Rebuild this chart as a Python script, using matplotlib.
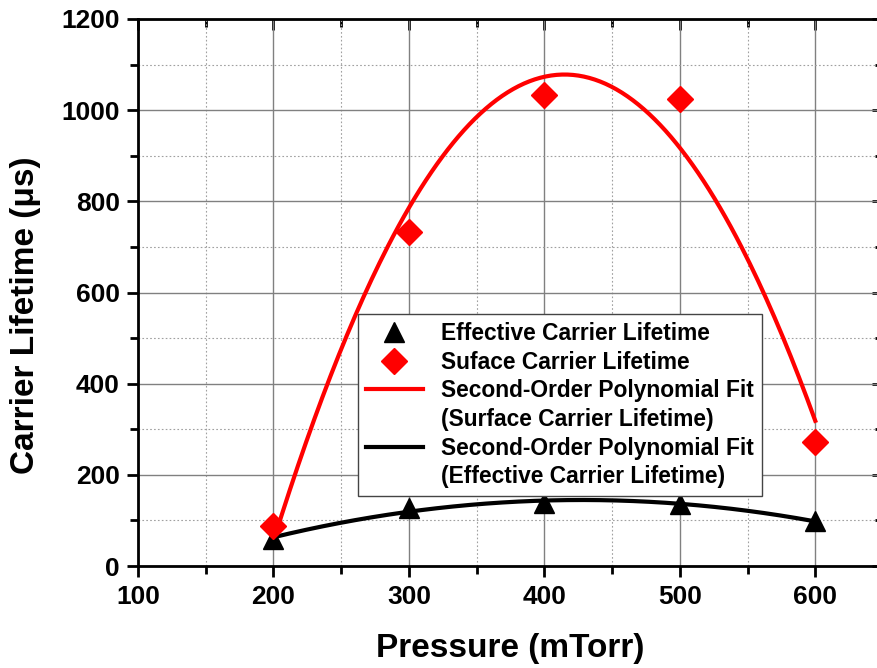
import numpy as np
import matplotlib.pyplot as plt
from matplotlib.lines import Line2D
from matplotlib.ticker import MultipleLocator

plt.rcParams['font.family'] = ['Liberation Sans', 'DejaVu Sans']
plt.rcParams['font.weight'] = 'bold'

# data
pressure = [200, 300, 400, 500, 600]
effective = [60, 127, 138, 136, 99]
surface = [88, 733, 1033, 1024, 272]

# second-order polynomial fits, as in the original
xfit = np.linspace(200, 600, 200)
red_fit = np.polyval(np.polyfit(pressure, surface, 2), xfit)
blk_fit = np.polyval(np.polyfit(pressure, effective, 2), xfit)

fig = plt.figure(figsize=(8.77, 6.68), dpi=100, facecolor='w')
ax = fig.add_axes([138/877, 102/668, 745/877, 547/668])

ax.plot(xfit, red_fit, color='#ff0000', lw=3, zorder=3)
ax.plot(xfit, blk_fit, color='black', lw=3, zorder=3)
ax.plot(pressure, effective, '^', color='black', ms=15, zorder=4)
ax.plot(pressure, surface, 'D', color='#ff0000', ms=13, zorder=5)

ax.set_xlim(100, 650)
ax.set_ylim(0, 1200)
ax.xaxis.set_major_locator(MultipleLocator(100))
ax.xaxis.set_minor_locator(MultipleLocator(50))
ax.yaxis.set_major_locator(MultipleLocator(200))
ax.yaxis.set_minor_locator(MultipleLocator(100))
ax.grid(which='major', color='#808080', lw=1, ls='-')
ax.grid(which='minor', color='#a0a0a0', lw=0.8, ls=(0, (1.5, 2)))
ax.set_axisbelow(True)

for s in ax.spines.values():
    s.set_linewidth(2)

ax.tick_params(which='major', direction='out', length=8, width=2, labelsize=19, pad=6)
ax.tick_params(which='minor', direction='out', length=6, width=2)
ax.tick_params(axis='y', which='major', pad=5)

top = ax.secondary_xaxis('top')
top.xaxis.set_major_locator(MultipleLocator(100))
top.xaxis.set_minor_locator(MultipleLocator(50))
top.tick_params(which='major', direction='in', length=8, width=2, labeltop=False)
top.tick_params(which='minor', direction='in', length=6, width=2)
right = ax.secondary_yaxis('right')
right.yaxis.set_major_locator(MultipleLocator(200))
right.yaxis.set_minor_locator(MultipleLocator(100))
right.tick_params(which='major', direction='in', length=8, width=2, labelright=False)
right.tick_params(which='minor', direction='in', length=6, width=2)

ax.set_xlabel('Pressure (mTorr)', fontsize=24, fontweight='bold')
ax.set_ylabel('Carrier Lifetime (μs)', fontsize=24, fontweight='bold')
ax.xaxis.set_label_coords(0.5, -0.122)
ax.yaxis.set_label_coords(-0.13, 0.459)

blank = Line2D([], [], ls='none')
handles = [
    Line2D([], [], ls='none', marker='^', color='black', ms=15),
    Line2D([], [], ls='none', marker='D', color='#ff0000', ms=13),
    Line2D([], [], color='#ff0000', lw=3),
    blank,
    Line2D([], [], color='black', lw=3),
    blank,
]
labels = [
    'Effective Carrier Lifetime',
    'Suface Carrier Lifetime',
    'Second-Order Polynomial Fit',
    '(Surface Carrier Lifetime)',
    'Second-Order Polynomial Fit',
    '(Effective Carrier Lifetime)',
]
leg = ax.legend(handles, labels, loc='upper left', bbox_to_anchor=(0.2953, 0.4607),
                borderaxespad=0, fancybox=False, framealpha=1, edgecolor='#444444',
                prop={'size': 16.4, 'weight': 'bold'}, handlelength=2.5,
                handletextpad=0.8, labelspacing=0.25, borderpad=0.35)
leg.get_frame().set_linewidth(1)
leg.set_zorder(6)

fig.savefig('out.png', dpi=100)
